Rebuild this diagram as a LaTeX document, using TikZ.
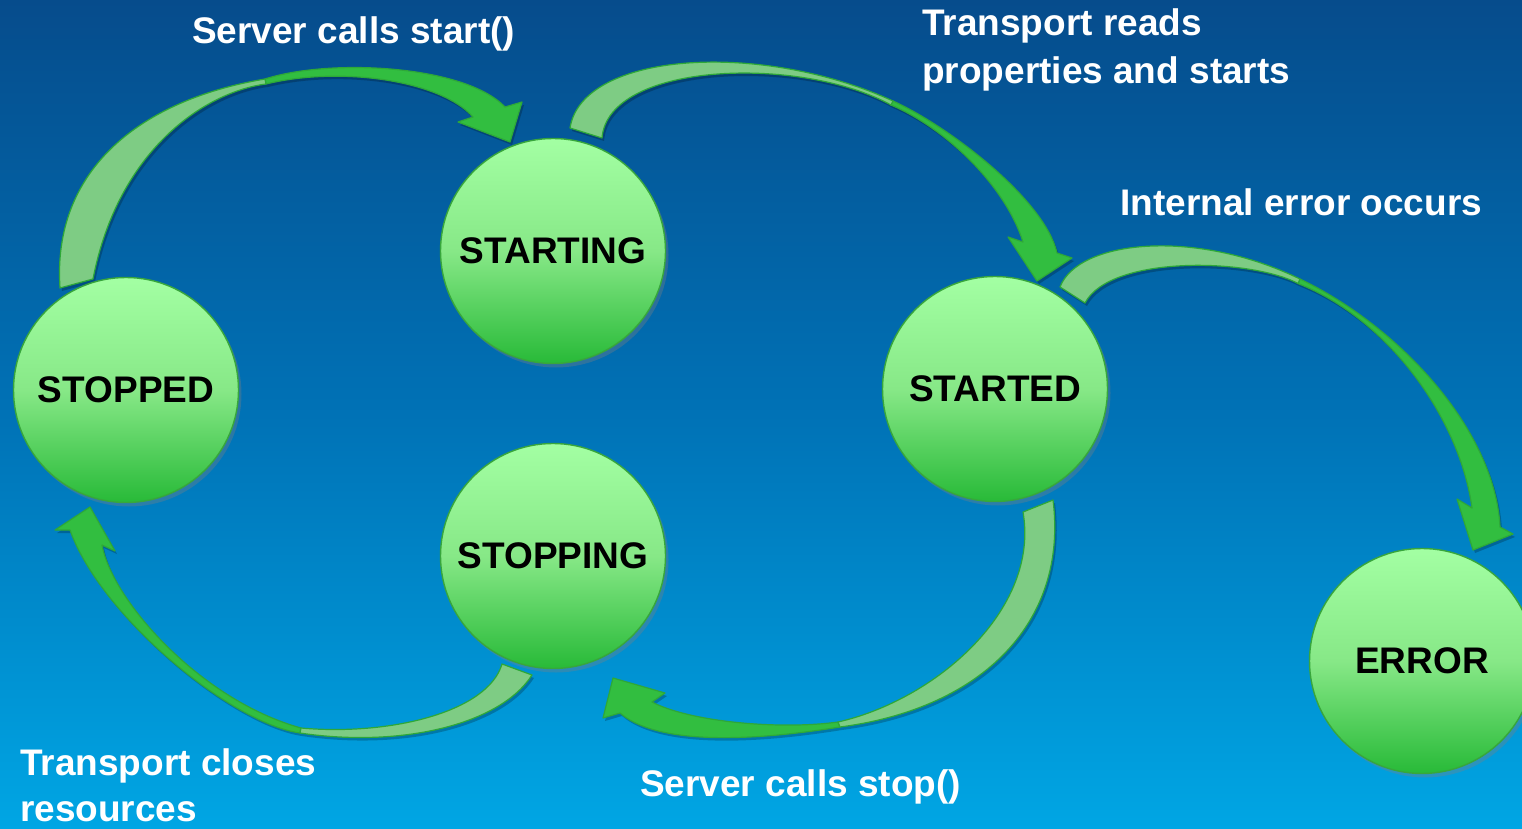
\documentclass[tikz,border=0pt]{standalone}
\usepackage{fontspec}
\setmainfont{Liberation Sans}
\usetikzlibrary{shadows}
\definecolor{bgtop}{RGB}{6,76,140}
\definecolor{bgmid}{RGB}{0,114,182}
\definecolor{bgbot}{RGB}{0,166,228}
\definecolor{ctop}{RGB}{163,255,163}
\definecolor{cmid}{RGB}{135,232,135}
\definecolor{cbot}{RGB}{40,186,56}
\definecolor{cedge}{RGB}{56,166,60}
\definecolor{adark}{RGB}{50,190,64}
\definecolor{alight}{RGB}{126,204,132}
\definecolor{aedge}{RGB}{46,168,56}
\newcommand\ribbonarrow[2]{%
  \fill[black,opacity=0.22,xshift=2pt,yshift=-3pt] #1 #2;
  \filldraw[fill=adark,draw=aedge,line width=1.2pt,line join=round] #2;
  \filldraw[fill=alight,draw=aedge,line width=1.2pt,line join=round] #1;
}
\begin{document}
\begin{tikzpicture}[x=1pt,y=-1pt,
  state/.style={circle, minimum size=225pt, inner sep=0pt, draw=cedge, line width=1.4pt,
    top color=ctop, bottom color=cbot, middle color=cmid,
    font=\fontsize{37}{44}\selectfont\bfseries, text=black,
    drop shadow={shadow xshift=3pt, shadow yshift=-4pt, opacity=0.35}},
  lbl/.style={text=white, font=\fontsize{37}{44}\selectfont\bfseries, inner sep=0pt, anchor=base west}]
\useasboundingbox (0,0) rectangle (1522,829);
\clip (0,0) rectangle (1522,829);
\shade[top color=bgtop, bottom color=bgbot, middle color=bgmid] (0,0) rectangle (1522,829);

% STOPPED -> STARTING
\ribbonarrow{(60,288) .. controls (52,170) and (140,100) .. (265,79) -- (266,84) .. controls (205,92) and (118,150) .. (93,279) -- cycle}
{(265,79) .. controls (330,58) and (465,65) .. (505,107) -- (522,102) -- (510,142) -- (458,122) -- (473,117) .. controls (440,80) and (340,66) .. (266,84) -- cycle}
% STARTING -> STARTED
\ribbonarrow{(570,128) .. controls (582,52) and (760,40) .. (893,101) -- (891,105) .. controls (800,55) and (608,62) .. (602,138) -- cycle}
{(893,101) .. controls (950,127) and (1045,200) .. (1057,253) -- (1072,258) -- (1037,281) -- (1008,237) -- (1023,242) .. controls (1005,185) and (945,128) .. (891,105) -- cycle}
% STARTED -> ERROR
\ribbonarrow{(1060,287) .. controls (1078,240) and (1195,228) .. (1300,279) -- (1298,283.5) .. controls (1250,258) and (1110,255) .. (1085,303) -- cycle}
{(1300,279) .. controls (1400,327) and (1495,430) .. (1500,527) -- (1513,534) -- (1473,550) -- (1457,499) -- (1472,508) .. controls (1460,420) and (1390,320) .. (1298,283.5) -- cycle}
% STARTED -> STOPPING
\ribbonarrow{(1053,500) .. controls (1068,620) and (985,708) .. (840,727) -- (838,722) .. controls (935,700) and (1040,610) .. (1023,512) -- cycle}
{(840,727) .. controls (790,735) and (665,752) .. (620,713) -- (603,718) -- (613,678) -- (665,693) -- (652,702) .. controls (690,722) and (780,730) .. (838,722) -- cycle}
% STOPPING -> STOPPED
\ribbonarrow{(532,675) .. controls (500,725) and (400,748) .. (300,733) -- (301,728) .. controls (390,736) and (488,712) .. (502,664) -- cycle}
{(300,733) .. controls (230,723) and (100,615) .. (70,530) -- (55,530) -- (90,507) -- (115,551) -- (102,545) .. controls (112,600) and (200,700) .. (301,728) -- cycle}

\node[state] (starting) at (553,251) {STARTING};
\node[state] (stopped) at (126,390) {STOPPED};
\node[state] (stopping) at (553,556) {STOPPING};
\node[state] (started) at (995,389) {STARTED};
\node[state] (error) at (1422,661) {ERROR};

\node[lbl] (l1) at (192,44) {Server calls start()};
\node[lbl] (l2) at (922,36) {Transport reads};
\node[lbl] (l3) at (922,84) {properties and starts};
\node[lbl] (l4) at (1120,215) {Internal error occurs};
\node[lbl] (l5) at (20,775) {Transport closes};
\node[lbl] (l6) at (20,821) {resources};
\node[lbl] (l7) at (640,796) {Server calls stop()};
\end{tikzpicture}
\end{document}
